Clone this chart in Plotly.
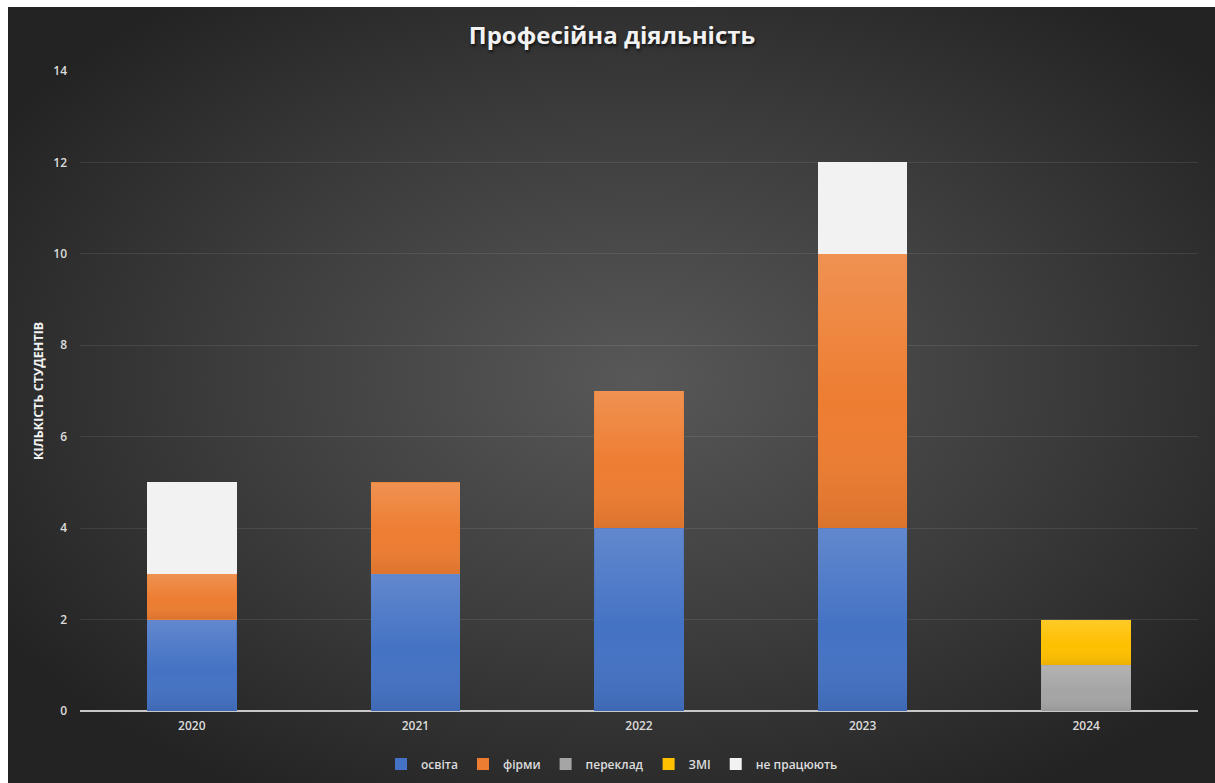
import base64
import plotly.graph_objects as go

# Graduation years and number of students by type of professional activity
years = ["2020", "2021", "2022", "2023", "2024"]
osvita = [2, 3, 4, 4, 0]
firmy = [1, 2, 3, 6, 0]
pereklad = [0, 0, 0, 0, 1]
zmi = [0, 0, 0, 0, 1]
ne_pratsiuiut = [2, 0, 0, 2, 0]

series = [
    ("освіта", osvita, "#4472C4"),
    ("фірми", firmy, "#ED7D31"),
    ("переклад", pereklad, "#A5A5A5"),
    ("ЗМІ", zmi, "#FFC000"),
    ("не працюють", ne_pratsiuiut, "#F2F2F2"),
]
# series drawn flat, without the vertical sheen
flat_series = {"не працюють"}

y_ticks = [0, 2, 4, 6, 8, 10, 12, 14]

BAR_W = 0.4
W, H = 1215, 783
ML, MR, MT, MB = 80, 17, 71, 72
PW, PH = W - ML - MR, H - MT - MB
BG_X0, BG_Y0 = 8, 7
BG_W, BG_H = W - BG_X0, H - BG_Y0


def px_to_paper_x(px):
    return (px - ML) / PW


def px_to_paper_y(py):
    return (H - MB - py) / PH


def svg_uri(svg):
    return "data:image/svg+xml;base64," + base64.b64encode(svg.encode()).decode()


# radial background of the chart area
bg_svg = (
    f'<svg xmlns="http://www.w3.org/2000/svg" width="{BG_W}" height="{BG_H}" '
    f'viewBox="0 0 {BG_W} {BG_H}" preserveAspectRatio="none">'
    '<defs><radialGradient id="g" cx="52%" cy="48%" r="62%">'
    '<stop offset="0%" stop-color="#585858"/>'
    '<stop offset="55%" stop-color="#3c3c3c"/>'
    '<stop offset="100%" stop-color="#232323"/>'
    '</radialGradient></defs>'
    f'<rect width="{BG_W}" height="{BG_H}" fill="url(#g)"/></svg>'
)

# soft vertical sheen laid over each bar segment
sheen_svg = (
    '<svg xmlns="http://www.w3.org/2000/svg" width="10" height="100" '
    'viewBox="0 0 10 100" preserveAspectRatio="none">'
    '<defs><linearGradient id="s" x1="0" y1="0" x2="0" y2="1">'
    '<stop offset="0%" stop-color="#ffffff" stop-opacity="0.16"/>'
    '<stop offset="55%" stop-color="#ffffff" stop-opacity="0"/>'
    '<stop offset="100%" stop-color="#000000" stop-opacity="0.08"/>'
    '</linearGradient></defs>'
    '<rect width="10" height="100" fill="url(#s)"/></svg>'
)

x_idx = list(range(len(years)))

fig = go.Figure()
for name, vals, color in series:
    fig.add_trace(go.Bar(
        name=name,
        x=x_idx,
        y=vals,
        width=BAR_W,
        marker=dict(color=color, line=dict(width=0)),
        hovertemplate="%{y}<extra>" + name + "</extra>",
    ))

images = [dict(
    source=svg_uri(bg_svg),
    xref="paper", yref="paper",
    x=px_to_paper_x(BG_X0), y=px_to_paper_y(BG_Y0),
    sizex=BG_W / PW, sizey=BG_H / PH,
    xanchor="left", yanchor="top",
    sizing="stretch", layer="below",
)]

sheen = svg_uri(sheen_svg)
base = [0] * len(years)
for name, vals, color in series:
    for i, v in enumerate(vals):
        if v > 0:
            if name not in flat_series:
                images.append(dict(
                    source=sheen, xref="x", yref="y",
                    x=i - BAR_W / 2, y=base[i] + v,
                    sizex=BAR_W, sizey=v,
                    xanchor="left", yanchor="top",
                    sizing="stretch", layer="above",
                ))
            base[i] += v

label_font = dict(size=12, color="#dcdcdc", family="Open Sans, sans-serif", weight=600)

fig.update_layout(
    width=W, height=H,
    margin=dict(l=ML, r=MR, t=MT, b=MB, autoexpand=False),
    paper_bgcolor="#ffffff",
    plot_bgcolor="rgba(0,0,0,0)",
    barmode="stack",
    font=dict(family="Open Sans, sans-serif", color="#d9d9d9"),
    images=images,
    title=dict(
        text="<b>Професійна діяльність</b>",
        xref="container", x=612 / W, xanchor="center",
        yref="container", y=1 - 36 / H, yanchor="middle",
        font=dict(size=24, color="#f2f2f2", family="Open Sans, sans-serif",
                  shadow="1px 2px 3px rgba(0,0,0,0.7)"),
    ),
    xaxis=dict(
        range=[-0.5, len(years) - 0.5],
        tickvals=x_idx, ticktext=years,
        tickfont=label_font,
        showgrid=False, zeroline=False,
        showline=False, ticks="",
        ticklabelstandoff=6,
    ),
    yaxis=dict(
        range=[0, 14],
        tickvals=y_ticks,
        tickfont=label_font,
        showgrid=True, gridcolor="rgba(255,255,255,0.09)", gridwidth=1,
        zeroline=True, zerolinecolor="#c8c8c8", zerolinewidth=2,
        showline=False, ticks="",
        ticklabelstandoff=12,
    ),
    legend=dict(
        orientation="h", traceorder="normal",
        xref="container", x=612 / W, xanchor="center",
        yref="container", y=1 - 764 / H, yanchor="middle",
        bgcolor="rgba(0,0,0,0)",
        font=label_font,
        itemwidth=30,
        tracegroupgap=0,
    ),
    annotations=[dict(
        text="<b>КІЛЬКІСТЬ СТУДЕНТІВ</b>",
        xref="paper", yref="paper",
        x=px_to_paper_x(38), y=0.5,
        textangle=-90, showarrow=False,
        font=dict(size=12.5, color="#f2f2f2"),
        xanchor="center", yanchor="middle",
    )],
)

fig.write_html("out.html")
